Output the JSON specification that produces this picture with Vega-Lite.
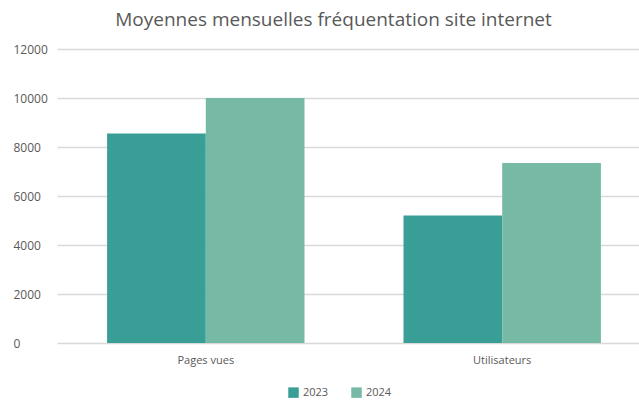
{
  "$schema": "https://vega.github.io/schema/vega-lite/v6.json",
  "width": 581,
  "height": 294,
  "autosize": {"type": "none"},
  "padding": {"left": 57, "top": 49, "right": 1, "bottom": 57},
  "background": "white",
  "title": {
    "text": "Moyennes mensuelles fréquentation site internet",
    "font": "Open Sans",
    "fontSize": 19,
    "fontWeight": "normal",
    "color": "#595959",
    "anchor": "middle",
    "dx": -14,
    "offset": 13
  },
  "data": {
    "values": [
      {"categorie": "Pages vues", "annee": "2023", "valeur": 8550},
      {"categorie": "Pages vues", "annee": "2024", "valeur": 10000},
      {"categorie": "Utilisateurs", "annee": "2023", "valeur": 5200},
      {"categorie": "Utilisateurs", "annee": "2024", "valeur": 7350}
    ]
  },
  "mark": {"type": "bar"},
  "encoding": {
    "x": {
      "field": "categorie",
      "type": "nominal",
      "title": null,
      "scale": {"paddingInner": 0.334, "paddingOuter": 0.169, "range": [0, 594]},
      "axis": {
        "labelAngle": 0,
        "domain": false,
        "ticks": false,
        "labelPadding": 11,
        "labelFont": "Open Sans",
        "labelFontSize": 11,
        "labelColor": "#595959"
      }
    },
    "xOffset": {"field": "annee", "type": "nominal", "scale": {"paddingInner": 0, "paddingOuter": 0}},
    "y": {
      "field": "valeur",
      "type": "quantitative",
      "title": null,
      "scale": {"domain": [0, 12000], "nice": false},
      "axis": {
        "values": [0, 2000, 4000, 6000, 8000, 10000, 12000],
        "format": "d",
        "domain": false,
        "ticks": false,
        "labelAlign": "left",
        "labelPadding": 44,
        "labelFont": "Open Sans",
        "labelFontSize": 12,
        "labelColor": "#595959",
        "gridColor": "#d9d9d9",
        "gridWidth": 1.5
      }
    },
    "color": {
      "field": "annee",
      "type": "nominal",
      "title": null,
      "scale": {"domain": ["2023", "2024"], "range": ["#389e96", "#76b9a4"]},
      "legend": {
        "orient": "none",
        "legendX": 231,
        "legendY": 338,
        "direction": "horizontal",
        "symbolType": "square",
        "symbolSize": 110,
        "symbolStrokeWidth": 0,
        "labelFont": "Open Sans",
        "labelFontSize": 11,
        "labelColor": "#595959",
        "columnPadding": 22
      }
    }
  },
  "config": {
    "view": {"stroke": null}
  }
}
